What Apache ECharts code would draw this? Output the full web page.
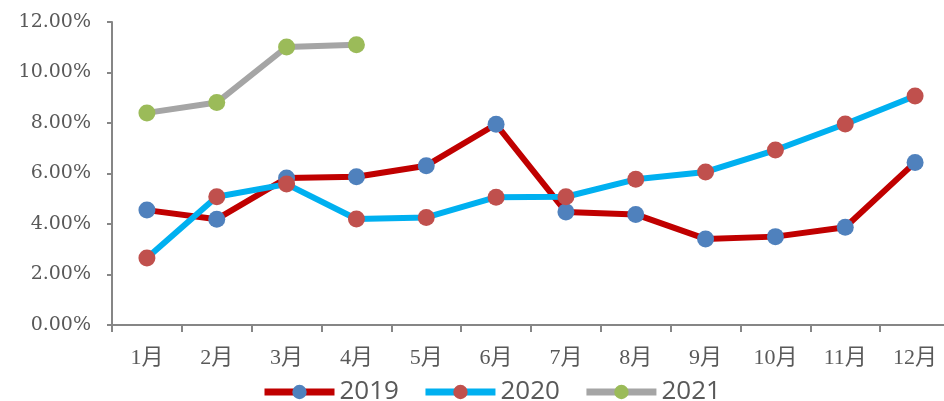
<!DOCTYPE html>
<html>
<head>
<meta charset="utf-8">
<script src="https://cdn.jsdelivr.net/npm/echarts@6/dist/echarts.min.js"></script>
<style>
  html, body { margin: 0; padding: 0; background: #fff; overflow: hidden; }
  #chart { width: 950px; height: 401px; }
</style>
</head>
<body>
<div id="chart"></div>
<script>
// Monthly growth rates (%), by year
const months = ['1月', '2月', '3月', '4月', '5月', '6月', '7月', '8月', '9月', '10月', '11月', '12月'];
const years = ['2019', '2020', '2021'];
const values2019 = [4.55, 4.19, 5.82, 5.87, 6.31, 7.95, 4.48, 4.38, 3.41, 3.50, 3.87, 6.44];
const values2020 = [2.65, 5.08, 5.58, 4.20, 4.26, 5.06, 5.08, 5.77, 6.06, 6.93, 7.96, 9.07];
const values2021 = [8.40, 8.81, 11.01, 11.10];

const axisColor = '#868686';
const labelColor = '#595959';

function lineSeries(name, data, lineColor, dotColor) {
  return {
    name: name,
    type: 'line',
    data: data,
    symbol: 'circle',
    symbolSize: 17,
    showSymbol: true,
    animation: false,
    lineStyle: { color: lineColor, width: 6 },
    itemStyle: { color: dotColor, borderWidth: 0 },
    emphasis: { disabled: true }
  };
}

const chart = echarts.init(document.getElementById('chart'), null, { renderer: 'canvas' });
chart.setOption({
  backgroundColor: '#ffffff',
  animation: false,
  grid: { left: 112, right: 0, top: 22, bottom: 76 },
  xAxis: {
    type: 'category',
    data: months,
    boundaryGap: true,
    axisLine: { lineStyle: { color: axisColor, width: 2 } },
    axisTick: { show: true, length: 7, lineStyle: { color: axisColor, width: 2 } },
    axisLabel: {
      color: labelColor,
      fontSize: 22,
      fontFamily: '"Liberation Serif", "Noto Sans CJK SC", serif',
      margin: 22
    },
    splitLine: { show: false }
  },
  yAxis: {
    type: 'value',
    min: 0,
    max: 12,
    interval: 2,
    axisLine: { show: true, lineStyle: { color: axisColor, width: 2 } },
    axisTick: { show: true, length: 5, lineStyle: { color: axisColor, width: 2 } },
    axisLabel: {
      color: labelColor,
      fontSize: 19,
      fontFamily: '"DejaVu Serif", serif',
      margin: 21,
      formatter: v => v.toFixed(2) + '%'
    },
    splitLine: { show: false }
  },
  legend: {
    data: years,
    top: 374,
    left: 256,
    itemWidth: 70,
    itemHeight: 18,
    itemGap: 23,
    lineStyle: { width: 7 },
    textStyle: { color: labelColor, fontSize: 26, fontFamily: '"Open Sans", "Noto Sans", sans-serif' }
  },
  series: [
    lineSeries(years[0], values2019, '#C00000', '#4F81BD'),
    lineSeries(years[1], values2020, '#00B0F0', '#C0504D'),
    lineSeries(years[2], values2021, '#A5A5A5', '#9BBB59')
  ]
});
</script>
</body>
</html>
